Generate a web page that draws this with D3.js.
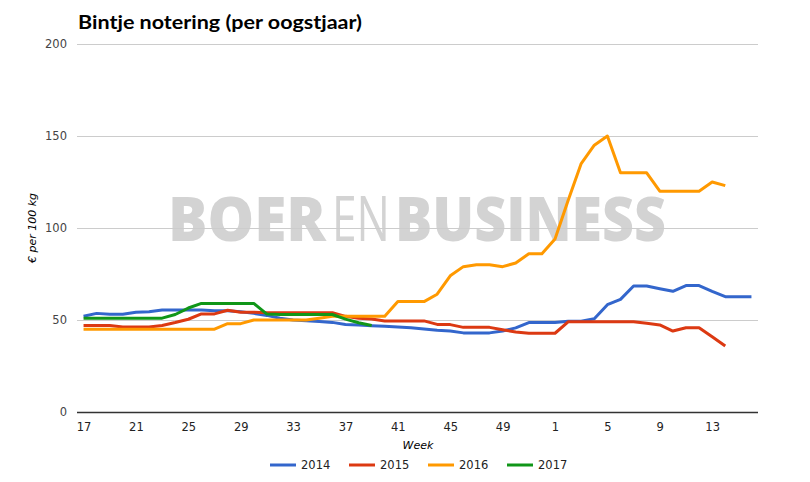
<!DOCTYPE html>
<html>
<head>
<meta charset="utf-8">
<script src="https://cdn.jsdelivr.net/npm/d3@7"></script>
<style>
  html, body { margin: 0; padding: 0; background: #fff; }
  svg { display: block; }
</style>
</head>
<body>
<div id="chart"></div>
<script>
// ---- data ----
const weeks = [17,18,19,20,21,22,23,24,25,26,27,28,29,30,31,32,33,34,35,36,37,38,39,40,41,42,43,44,45,46,47,48,49,50,51,52,1,2,3,4,5,6,7,8,9,10,11,12,13,14,15,16];
const tickWeeks = [17,21,25,29,33,37,41,45,49,1,5,9,13];
const yTicks = [0,50,100,150,200];
const seriesNames = ["2014","2015","2016","2017"];
const seriesColors = ["#3366cc","#dc3912","#ff9900","#109618"];

const v2014 = [52,53.6,53.1,53.1,54.2,54.5,55.4,55.4,55.4,55.4,55,55,54.5,53.6,52.5,51,50,49.6,49.2,48.7,47.6,47.3,46.9,46.6,46.2,45.8,45.1,44.4,44,43,43,43,44,45.7,48.6,48.6,48.6,49.3,49.3,50.7,58.3,61.2,68.5,68.5,67,65.6,68.7,68.7,65.6,62.7,62.7,62.7];
const v2015 = [47,47,47,46.2,46.2,46.2,47,48.6,50.4,53.3,53.3,55.3,54.2,54.2,54,54,54,54,54,54,52,51,50.5,49.5,49.5,49.5,49.5,47.6,47.5,46,46,46,44.7,43.5,42.8,42.8,42.8,49,49,49,49,49,49,48.2,47.3,44,45.8,45.8,40.9,35.9,null,null];
const v2016 = [45,45,45,45,45,45,45,45,45,45,45,48,48,50,50,50,50,50,51,52,52,52,52,52,60,60,60,64,74,79,80,80,79,81,86,86,94,115,135,145,150,130,130,130,120,120,120,120,125,123,null,null];
const v2017 = [51,51,51,51,51,51,51,53,56.5,59,59,59,59,59,53.2,53,53,53,53,53,50.5,48.5,47,null,null,null,null,null,null,null,null,null,null,null,null,null,null,null,null,null,null,null,null,null,null,null,null,null,null,null,null,null];
const allSeries = [v2014, v2015, v2016, v2017];

// ---- chart ----
const W = 810, H = 482;
const svg = d3.select("#chart").append("svg").attr("width", W).attr("height", H);
const font = "'DejaVu Sans', Verdana, sans-serif";

const x = d3.scaleLinear().domain([-0.5, weeks.length - 0.5]).range([77, 758]);
const y = d3.scaleLinear().domain([0, 200]).range([412, 44]);

// title
svg.append("text")
  .attr("x", 78).attr("y", 29)
  .attr("font-family", "Lato, 'Open Sans', sans-serif")
  .attr("font-weight", 700)
  .attr("font-size", 19)
  .attr("textLength", 284).attr("lengthAdjust", "spacingAndGlyphs")
  .attr("fill", "#000")
  .text("Bintje notering (per oogstjaar)");

// watermark: each word scaled horizontally to its span
const wm = svg.append("g").attr("fill", "#d3d3d3").attr("font-family", "'Open Sans', Lato, sans-serif");
const wmParts = [
  {t: "BOER", x0: 168, x1: 327, w: 800},
  {t: "EN", x0: 332, x1: 390, w: 400},
  {t: "BUSINESS", x0: 395, x1: 666, w: 800}
];
wmParts.forEach(p => {
  const t = wm.append("text")
    .attr("x", 0).attr("y", 0)
    .attr("font-size", 62).attr("font-weight", p.w)
    .text(p.t);
  const bb = t.node().getBBox();
  const sx = (p.x1 - p.x0) / bb.width;
  t.attr("transform", `translate(${p.x0 - bb.x * sx},241) scale(${sx},1)`);
});

// gridlines
svg.append("g").selectAll("line").data(yTicks.filter(d => d > 0)).join("line")
  .attr("x1", 77).attr("x2", 758)
  .attr("y1", d => y(d)).attr("y2", d => y(d))
  .attr("stroke", "#cccccc").attr("stroke-width", 1)
  .attr("shape-rendering", "crispEdges");

// y axis labels
const yAxis = d3.axisLeft(y).tickValues(yTicks).tickSize(0).tickPadding(10);
const gy = svg.append("g").attr("transform", "translate(77,0)").call(yAxis);
gy.select(".domain").remove();
gy.selectAll("text").attr("font-family", font).attr("font-size", 11.5).attr("fill", "#444");

// x axis
const idxTicks = tickWeeks.map(w => weeks.indexOf(w));
const xAxis = d3.axisBottom(x).tickValues(idxTicks).tickFormat(i => weeks[i]).tickSize(0).tickPadding(11);
const gx = svg.append("g").attr("transform", "translate(0,412)").call(xAxis);
gx.select(".domain").attr("stroke", "#333").attr("stroke-width", 1.3).attr("d", "M77,0.5H758");
gx.selectAll("text").attr("font-family", font).attr("font-size", 11.5).attr("fill", "#222");

// axis titles
svg.append("text")
  .attr("x", 418).attr("y", 449)
  .attr("text-anchor", "middle")
  .attr("font-family", font).attr("font-style", "italic").attr("font-size", 11)
  .attr("fill", "#000")
  .text("Week");
svg.append("text")
  .attr("transform", "translate(36,228) rotate(-90)")
  .attr("text-anchor", "middle")
  .attr("font-family", font).attr("font-style", "italic").attr("font-size", 11)
  .attr("fill", "#000")
  .text("€ per 100 kg");

// lines
const line = d3.line()
  .defined(d => d != null)
  .x((d, i) => x(i))
  .y(d => y(d));
svg.append("g").selectAll("path").data(allSeries).join("path")
  .attr("d", d => line(d))
  .attr("fill", "none")
  .attr("stroke", (d, i) => seriesColors[i])
  .attr("stroke-width", 3)
  .attr("stroke-linejoin", "round");

// legend
const legendX = [270, 349, 428, 507];
const lg = svg.append("g");
seriesNames.forEach((n, i) => {
  lg.append("line")
    .attr("x1", legendX[i]).attr("x2", legendX[i] + 26)
    .attr("y1", 465).attr("y2", 465)
    .attr("stroke", seriesColors[i]).attr("stroke-width", 3);
  lg.append("text")
    .attr("x", legendX[i] + 31).attr("y", 469)
    .attr("font-family", font).attr("font-size", 11.5).attr("fill", "#222")
    .text(n);
});
</script>
</body>
</html>
